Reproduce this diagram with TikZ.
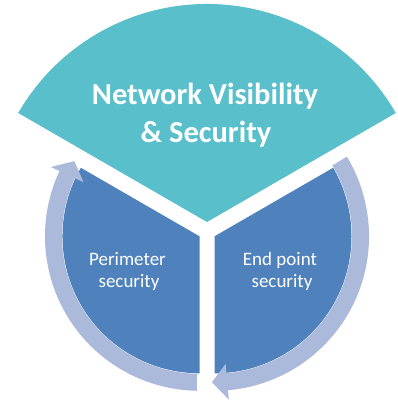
\documentclass[tikz,border=0pt]{standalone}
\usepackage{fontspec}
\setmainfont{Carlito}
\definecolor{teal1}{HTML}{58BFCB}
\definecolor{blue1}{HTML}{4F81BD}
\definecolor{band1}{HTML}{ABB9DA}
\tikzset{
  topsector/.style={fill=teal1, draw=none},
  sidesector/.style={fill=blue1, draw=none},
  cyclearrow/.style={fill=band1, draw=none},
  title/.style={text=white, font=\fontsize{30.5}{38}\selectfont\bfseries, anchor=base, inner sep=0pt},
  label/.style={text=white, font=\fontsize{19}{23}\selectfont, anchor=base, inner sep=0pt}
}
\begin{document}
\begin{tikzpicture}[x=1pt,y=1pt]
\useasboundingbox (0,0) rectangle (398,401);
\coordinate (T) at (207,179);
\coordinate (L) at (199.5,164.7);
\coordinate (R) at (214.5,164.7);
% top sector
\fill[topsector] (T) -- ++(30:218) arc[start angle=30, end angle=150, radius=218] -- cycle;
% left and right sectors
\fill[sidesector] (L) -- ++(150:137) arc[start angle=150, end angle=270, radius=137] -- cycle;
\fill[sidesector] (R) -- ++(-90:137) arc[start angle=-90, end angle=30, radius=137] -- cycle;
% left cycle arrow
\begin{scope}[shift={(199.5,164.7)}]
\fill[cyclearrow] (269:137.5) arc[start angle=269, end angle=155, radius=137.5]
  -- (155:128) -- (149:146) -- (155:164) -- (155:154.5)
  arc[start angle=155, end angle=269, radius=154.5] -- cycle;
\end{scope}
% right cycle arrow
\begin{scope}[shift={(214.5,164.7)}]
\fill[cyclearrow] (31:137.5) arc[start angle=31, end angle=-85, radius=137.5]
  -- (-85:128) -- (-91:146) -- (-85:164) -- (-85:154.5)
  arc[start angle=-85, end angle=31, radius=154.5] -- cycle;
\end{scope}
% texts
\node[title] (t1) at (205,296) {Network Visibility};
\node[title] (t2) at (206,258) {\& Security};
\node[label] (p1) at (127.5,135) {Perimeter};
\node[label] (p2) at (129,113) {security};
\node[label] (e1) at (280,135) {End point};
\node[label] (e2) at (282,113) {security};
\end{tikzpicture}
\end{document}
